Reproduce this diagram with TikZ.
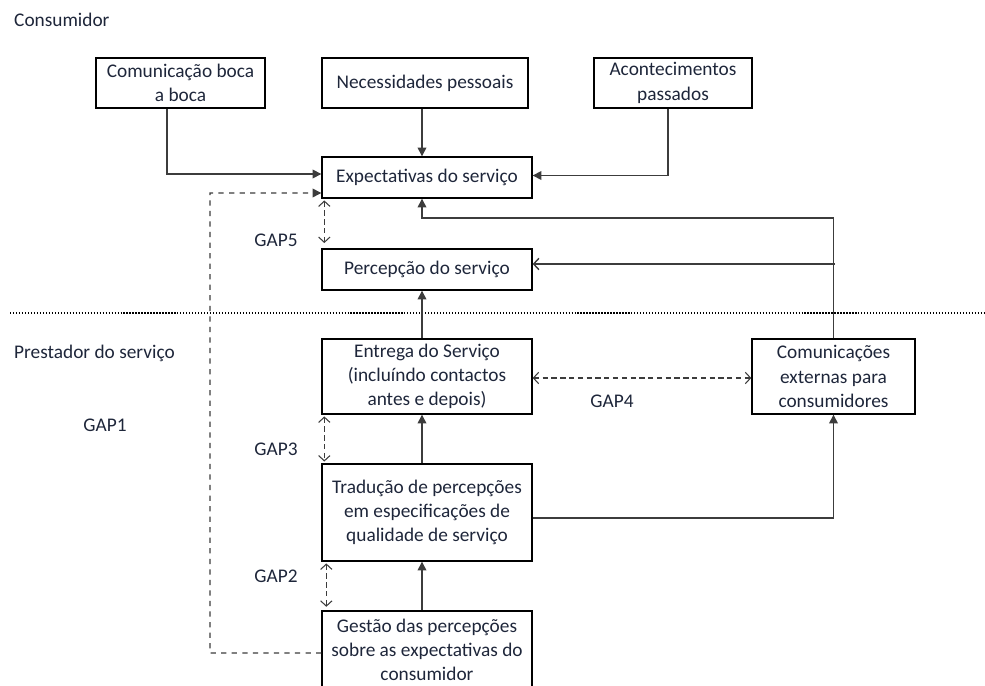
\documentclass[tikz,border=0pt]{standalone}
\usepackage{fontspec}
\setmainfont{Carlito}
\usepackage{tikz}
\usetikzlibrary{arrows.meta}

\definecolor{textcol}{RGB}{30,38,58}
\definecolor{linecol}{RGB}{60,60,60}

\begin{document}
\begin{tikzpicture}[x=0.02cm, y=-0.02cm,  % one unit = one pixel of the reference
    caixa/.style={draw, line width=0.8pt, align=center, inner sep=0pt, text=textcol,
        font=\fontsize{11}{13.8}\selectfont},
    rotulo/.style={text=textcol, font=\fontsize{11}{13.8}\selectfont},
    seta/.style={draw=linecol, line width=0.8pt, -{Triangle[length=5pt,width=5pt]}},
    gap/.style={draw=linecol, densely dashed, line width=0.6pt,
        {Straight Barb[length=3pt,width=6.5pt]}-{Straight Barb[length=3pt,width=6.5pt]}},
    gapum/.style={draw=linecol, dashed, line width=0.7pt, -{Triangle[length=5pt,width=5pt]}}]

    \clip (0,0) rectangle (985,686);  % fixes the page to the reference

    % Axis of the central vertical arrows, the return corner and the branch
    \coordinate (eixo) at (422,0);
    \coordinate (retorno) at (835,218);
    \coordinate (ramo) at (835,264);

    % Consumer side
    \node[rotulo, anchor=west] (consumidor) at (8,20) {Consumidor};
    \node[caixa, minimum width=3.38cm, minimum height=1.0cm] (boca) at (180.5,83) {Comunicação boca\\a boca};
    \node[caixa, minimum width=4.12cm, minimum height=1.0cm] (necess) at (425,83) {Necessidades pessoais};
    \node[caixa, minimum width=3.16cm, minimum height=1.0cm] (acont) at (673,83) {Acontecimentos\\passados};
    \node[caixa, minimum width=4.2cm, minimum height=0.82cm] (expect) at (427,177.5) {Expectativas do serviço};
    \node[caixa, minimum width=4.2cm, minimum height=0.82cm] (percep) at (427,269.5) {Percepção do serviço};

    % Separation line between consumer and provider
    \draw[densely dotted, line width=0.7pt] (10,313) -- (985,313);

    % Provider side
    \node[rotulo, anchor=west] (prestador) at (8,353) {Prestador do serviço};
    \node[caixa, minimum width=4.2cm, minimum height=1.5cm] (entrega) at (427,376.5) {Entrega do Serviço\\(incluíndo contactos\\antes e depois)};
    \node[caixa, minimum width=3.26cm, minimum height=1.5cm] (comext) at (833.5,376.5) {Comunicações\\externas para\\consumidores};
    \node[caixa, minimum width=4.2cm, minimum height=1.94cm] (traduc) at (427,512.5) {Tradução de percepções\\em especificações de\\qualidade de serviço};
    \node[caixa, minimum width=4.2cm, minimum height=1.56cm] (gestao) at (427,650) {Gestão das percepções\\sobre as expectativas do\\consumidor};

    % Gap labels
    \node[rotulo] (gap1) at (105,425) {GAP1};
    \node[rotulo] (gap5) at (276,240) {GAP5};
    \node[rotulo] (gap3) at (276,449) {GAP3};
    \node[rotulo] (gap2) at (276,576) {GAP2};
    \node[rotulo] (gap4) at (612,401) {GAP4};

    % Inputs to the expected service
    \draw[seta] ([xshift=-0.27cm]boca.south) |- ([yshift=0.07cm]expect.west);
    \draw[seta] (necess.south -| eixo) -- (expect.north -| eixo);
    \draw[seta] ([xshift=-0.1cm]acont.south) |- ([yshift=0.04cm]expect.east);
    \draw[seta] (comext.north) -- (comext.north |- retorno) -| (expect.south -| eixo);
    \draw[draw=linecol, line width=0.8pt, -{Straight Barb[length=3pt,width=6.5pt]}] (ramo) -- (percep.east |- ramo);

    % Chain of the provider
    \draw[seta] (gestao.north -| eixo) -- (traduc.south -| eixo);
    \draw[seta] (traduc.north -| eixo) -- (entrega.south -| eixo);
    \draw[seta] (entrega.north -| eixo) -- (percep.south -| eixo);
    \draw[seta] ([yshift=-0.11cm]traduc.east) -| (comext.south);

    % GAP1 (dashed return from the management box)
    \draw[gapum] ([yshift=-0.06cm]gestao.west) -- (210,653) |- ([yshift=-0.31cm]expect.west);

    % Double arrows of the gaps
    \draw[gap, shorten <=1pt, shorten >=3pt] ([xshift=0.06cm]expect.south west) -- ([xshift=0.06cm]percep.north west);
    \draw[gap, shorten <=1pt, shorten >=1pt] ([xshift=0.06cm]entrega.south west) -- ([xshift=0.06cm]traduc.north west);
    \draw[gap, shorten <=1pt, shorten >=2pt] ([xshift=0.1cm]traduc.south west) -- ([xshift=0.1cm]gestao.north west);
    \draw[gap] ([yshift=-0.03cm]entrega.east) -- ([yshift=-0.03cm]comext.west);

\end{tikzpicture}
\end{document}
